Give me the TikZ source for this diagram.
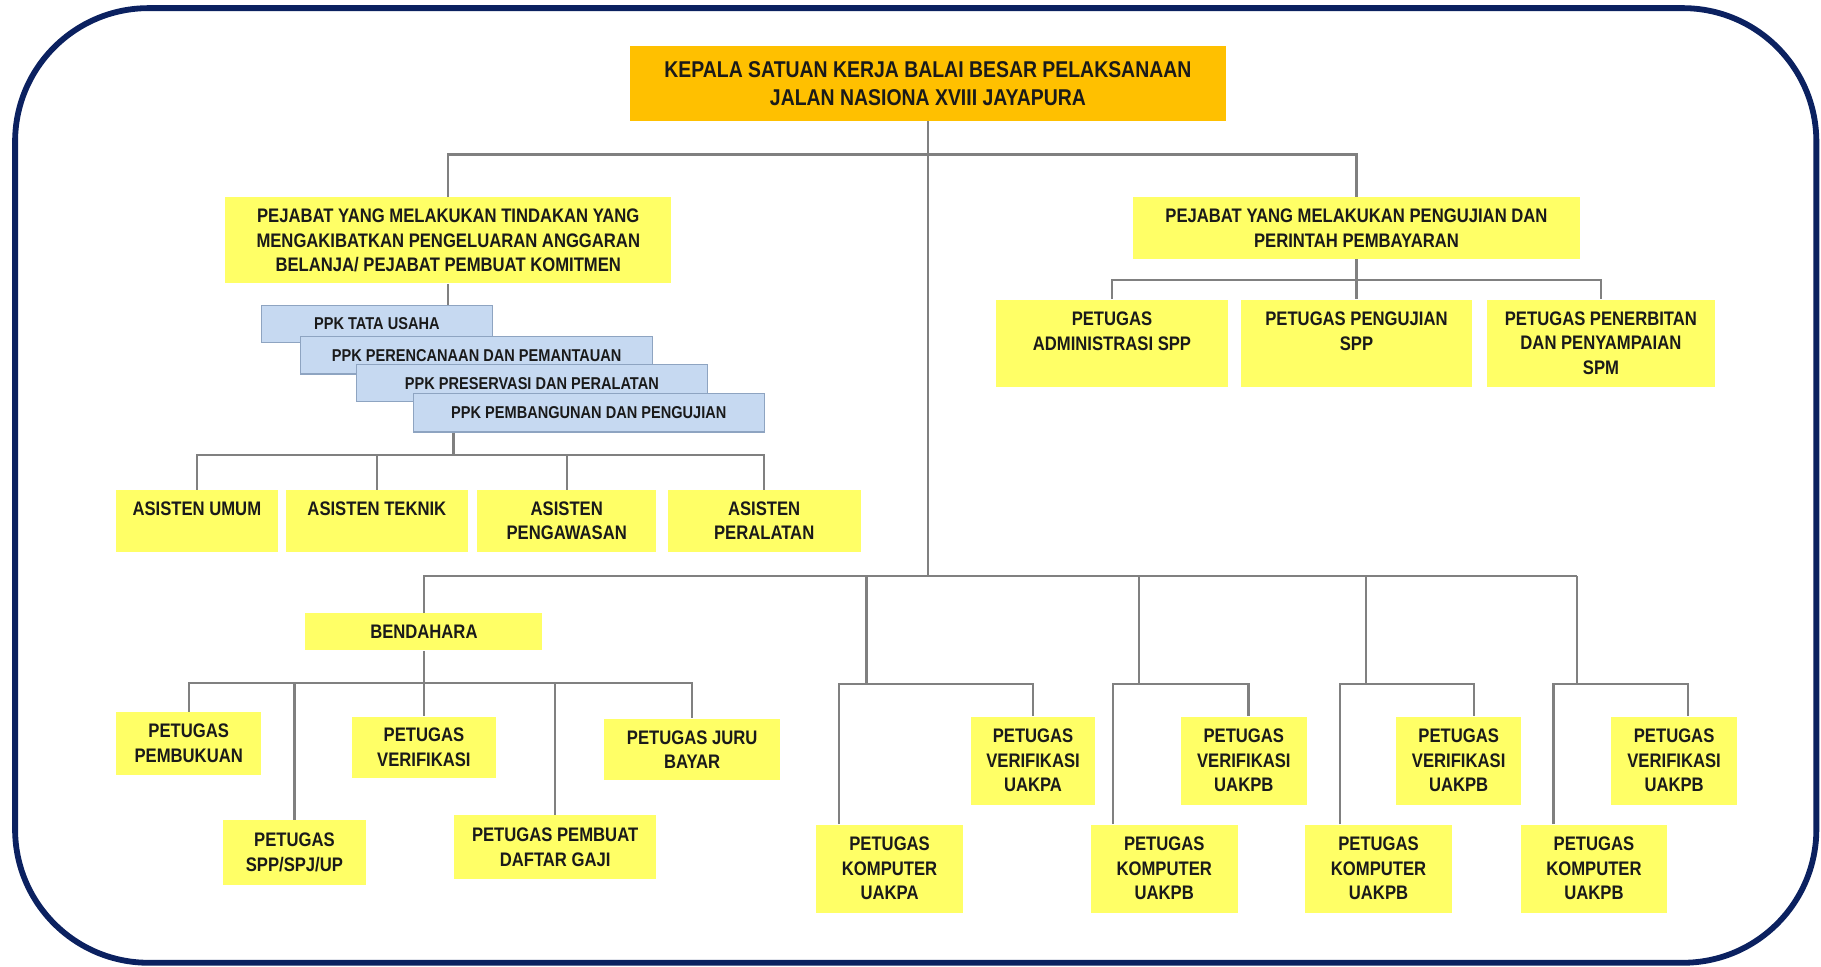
\documentclass[tikz,border=0pt]{standalone}
\usepackage{fontspec}
\newfontfamily\orgfont{Liberation Sans}[FakeStretch=0.85]
\usepackage{xcolor}
\usetikzlibrary{positioning}

\definecolor{boxyellow}{HTML}{FFFF66}
\definecolor{headorange}{HTML}{FFC000}
\definecolor{ppkblue}{HTML}{C6D9F1}
\definecolor{ppkedge}{HTML}{8EA4C1}
\definecolor{linegray}{HTML}{808080}
\definecolor{navyframe}{HTML}{0B2160}
\definecolor{txt}{HTML}{1A1A1A}

\begin{document}
\begin{tikzpicture}[
    x=0.02cm, y=-0.02cm,
    box/.style={rectangle, fill=boxyellow, align=center, inner sep=0pt, text=txt,
        font=\orgfont\bfseries\fontsize{9.6}{12}\selectfont},
    head/.style={box, fill=headorange, font=\orgfont\bfseries\fontsize{11.2}{14.2}\selectfont},
    ppk/.style={rectangle, draw=ppkedge, line width=0.6pt, fill=ppkblue, inner sep=0pt, text=txt,
        minimum height=0.64cm, font=\orgfont\bfseries\fontsize{8.4}{10}\selectfont},
    link/.style={draw=linegray, line width=1.1pt}
]
\useasboundingbox (0,0) rectangle (1568,832);

% frame
\draw[navyframe, line width=0.1cm, rounded corners=2.3cm] (13,7) rectangle (1564,829);

% head
\node[head, minimum width=10.26cm, minimum height=1.28cm] (kepala) at (799,72)
    {KEPALA SATUAN KERJA BALAI BESAR PELAKSANAAN\\JALAN NASIONA XVIII JAYAPURA};

% pejabat
\node[box, minimum width=7.68cm, minimum height=1.48cm] (ppkomit) at (386,207)
    {PEJABAT YANG MELAKUKAN TINDAKAN YANG\\MENGAKIBATKAN PENGELUARAN ANGGARAN\\BELANJA/ PEJABAT PEMBUAT KOMITMEN};
\node[box, minimum width=7.7cm, minimum height=1.06cm] (ppspm) at (1168,196.5)
    {PEJABAT YANG MELAKUKAN PENGUJIAN DAN\\PERINTAH PEMBAYARAN};

% petugas spm
\node[box, minimum width=3.98cm, minimum height=1.5cm] (admin) at (957.5,295.5) {PETUGAS\\ADMINISTRASI SPP\\\mbox{}};
\node[box, minimum width=3.98cm, minimum height=1.5cm] (uji) at (1168,295.5) {PETUGAS PENGUJIAN\\SPP\\\mbox{}};
\node[box, minimum width=3.94cm, minimum height=1.5cm] (terbit) at (1378.5,295.5) {PETUGAS PENERBITAN\\DAN PENYAMPAIAN\\SPM};

% ppk stack
\node[ppk, minimum width=3.98cm] (ppktu) at (324.5,279) {PPK TATA USAHA};
\node[ppk, minimum width=6.06cm] (ppkrencana) at (410.5,306) {PPK PERENCANAAN DAN PEMANTAUAN};
\node[ppk, minimum width=6.04cm] (ppkpreservasi) at (458,330) {PPK PRESERVASI DAN PERALATAN};
\node[ppk, minimum width=6.04cm, minimum height=0.66cm] (ppkbangun) at (507,355.5) {PPK PEMBANGUNAN DAN PENGUJIAN};

% asisten
\node[box, minimum width=2.78cm, minimum height=1.06cm] (umum) at (169.5,448.5) {ASISTEN UMUM\\\mbox{}};
\node[box, minimum width=3.14cm, minimum height=1.06cm] (teknik) at (324.5,448.5) {ASISTEN TEKNIK\\\mbox{}};
\node[box, minimum width=3.08cm, minimum height=1.06cm] (pengawasan) at (488,448.5) {ASISTEN\\PENGAWASAN};
\node[box, minimum width=3.32cm, minimum height=1.06cm] (peralatan) at (658,448.5) {ASISTEN\\PERALATAN};

% bendahara
\node[box, minimum width=4.08cm, minimum height=0.64cm] (bendahara) at (365,544) {BENDAHARA};
\node[box, minimum width=2.5cm, minimum height=1.08cm] (pembukuan) at (162.5,640) {PETUGAS\\PEMBUKUAN};
\node[box, minimum width=2.46cm, minimum height=1.12cm] (spp) at (253.5,734) {PETUGAS\\SPP/SPJ/UP};
\node[box, minimum width=2.48cm, minimum height=1.06cm] (verif) at (365,643.5) {PETUGAS\\VERIFIKASI};
\node[box, minimum width=3.48cm, minimum height=1.1cm] (gaji) at (478,729.5) {PETUGAS PEMBUAT\\DAFTAR GAJI};
\node[box, minimum width=3.04cm, minimum height=1.06cm] (juru) at (596,645.5) {PETUGAS JURU\\BAYAR};

% uakpa / uakpb
\node[box, minimum width=2.52cm, minimum height=1.52cm] (komp1) at (766,748) {PETUGAS\\KOMPUTER\\UAKPA};
\node[box, minimum width=2.14cm, minimum height=1.52cm] (ver1) at (889.5,655) {PETUGAS\\VERIFIKASI\\UAKPA};
\node[box, minimum width=2.54cm, minimum height=1.52cm] (komp2) at (1002.5,748) {PETUGAS\\KOMPUTER\\UAKPB};
\node[box, minimum width=2.16cm, minimum height=1.52cm] (ver2) at (1071,655) {PETUGAS\\VERIFIKASI\\UAKPB};
\node[box, minimum width=2.52cm, minimum height=1.52cm] (komp3) at (1187,748) {PETUGAS\\KOMPUTER\\UAKPB};
\node[box, minimum width=2.16cm, minimum height=1.52cm] (ver3) at (1256,655) {PETUGAS\\VERIFIKASI\\UAKPB};
\node[box, minimum width=2.5cm, minimum height=1.52cm] (komp4) at (1372.5,748) {PETUGAS\\KOMPUTER\\UAKPB};
\node[box, minimum width=2.18cm, minimum height=1.52cm] (ver4) at (1441.5,655) {PETUGAS\\VERIFIKASI\\UAKPB};

% bus levels and junctions
\coordinate (busA) at (0,133);
\coordinate (busB) at (0,241);
\coordinate (busC) at (0,392);
\coordinate (busD) at (0,588);
\coordinate (sub) at (0,589);
\coordinate (mid) at (799,496);
\coordinate (g1) at (746,496);
\coordinate (g2) at (981,496);
\coordinate (g3) at (1176,496);
\coordinate (g4) at (1358,496);

% connectors
\draw[link] (kepala) -- (mid);
\draw[link] (ppkomit.north) |- (ppspm.north |- busA) -- (ppspm.north);

\draw[link] (ppspm) -- (uji);
\draw[link] (admin.north) |- (terbit.north |- busB) -- (terbit.north);

\draw[link] (ppkomit.south) -- (ppkomit.south |- ppktu.north);
\draw[link] ([xshift=0.7cm]ppkbangun.south west) -- ([xshift=0.7cm]ppkbangun.south west |- busC);
\draw[link] (umum.north) |- (peralatan.north |- busC) -- (peralatan.north);
\draw[link] (teknik.north) -- (teknik.north |- busC);
\draw[link] (pengawasan.north) -- (pengawasan.north |- busC);

\draw[link] (bendahara.north) |- (g4);
\draw[link] (bendahara) -- (verif);
\draw[link] (pembukuan.north) |- (juru.north |- busD) -- (juru.north);
\draw[link] (spp.north) -- (spp.north |- busD);
\draw[link] (gaji.north) -- (gaji.north |- busD);

\foreach \i/\dl/\dr in {1/0.40/0.00, 2/0.40/0.08, 3/0.60/0.26, 4/0.56/0.24} {
  \draw[link] (g\i) -- (g\i |- sub);
  \draw[link] ([xshift=\dl cm]komp\i.north west) |- ([xshift=\dr cm]ver\i.north |- sub) -- ([xshift=\dr cm]ver\i.north);
}

\end{tikzpicture}
\end{document}
